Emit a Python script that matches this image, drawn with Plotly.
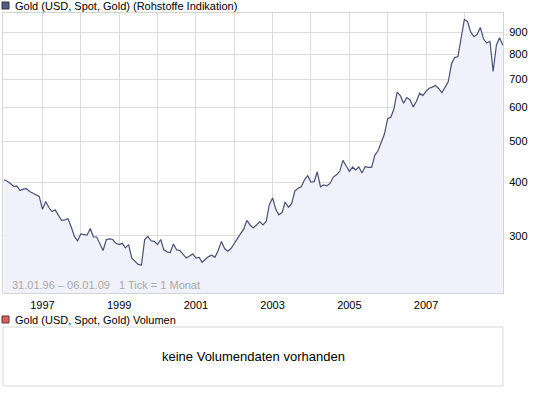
import plotly.graph_objects as go
import pandas as pd

# Monthly gold price (USD), Jan 1996 .. Jan 2009
prices = [
    406, 403, 398, 392, 393, 383, 386, 387, 381, 378, 375, 371,   # 1996
    346, 361, 350, 342, 345, 335, 326, 327, 329, 315, 299, 292,   # 1997
    303, 302, 301, 312, 298, 298, 288, 277, 294, 295, 294, 288,   # 1998
    286, 288, 281, 286, 266, 261, 257, 256, 294, 299, 292, 291,   # 1999
    286, 294, 278, 275, 274, 287, 278, 277, 272, 266, 269, 272,   # 2000
    266, 267, 260, 264, 268, 270, 267, 277, 291, 280, 276, 280,   # 2001
    288, 297, 303, 311, 326, 318, 313, 318, 324, 318, 324, 355,   # 2002
    368, 346, 336, 340, 360, 350, 357, 382, 388, 391, 406, 415,   # 2003
    401, 402, 424, 391, 395, 393, 398, 412, 417, 425, 451, 438,   # 2004
    425, 435, 428, 435, 421, 436, 434, 434, 464, 475, 496, 520,   # 2005
    565, 570, 595, 652, 640, 614, 633, 626, 602, 620, 648, 640,   # 2006
    655, 666, 670, 676, 665, 650, 669, 690, 760, 786, 790, 870,   # 2007
    966, 955, 903, 880, 890, 925, 870, 850, 858, 729, 840, 875,   # 2008
    840,                                                          # 2009
]
dates = pd.date_range("1996-01-01", periods=len(prices), freq="MS")

year_ticks = [f"{y}-01-01" for y in range(1997, 2010)]
year_labels = [str(y) if y % 2 == 1 and y < 2009 else "" for y in range(1997, 2010)]
y_ticks = [300, 400, 500, 600, 700, 800, 900]

title_main = "Gold (USD, Spot, Gold) (Rohstoffe Indikation)"
title_vol = "Gold (USD, Spot, Gold) Volumen"
range_note = "31.01.96 \u2013 06.01.09   1 Tick = 1 Monat"
no_vol = "keine Volumendaten vorhanden"

FONT = "Liberation Sans"
W, H = 545, 395
L, R, T, B = 3, 42, 13, 102
PH = H - T - B


def py(px):
    """convert pixel y (from top) to paper y"""
    return (H - B - px) / PH


def pxx(px):
    return (px - L) / (W - L - R)


fig = go.Figure()
fig.add_trace(go.Scatter(
    x=dates, y=prices, mode="lines",
    line=dict(color="#4a5174", width=1.2),
    fill="tozeroy", fillcolor="#f1f1fc",
    hoverinfo="x+y", showlegend=False,
))

fig.update_layout(
    width=W, height=H,
    margin=dict(l=L, r=R, t=T, b=B),
    paper_bgcolor="white", plot_bgcolor="white",
    font=dict(family=FONT, size=11, color="#000000"),
    xaxis=dict(
        range=["1995-12-22", "2009-01-03"],
        tickvals=year_ticks, ticktext=year_labels,
        showgrid=True, gridcolor="#dcdcdc", gridwidth=1,
        showline=True, linecolor="#d4d4d4", linewidth=1, mirror=True,
        ticks="", ticklabelstandoff=2, zeroline=False,
        tickfont=dict(family=FONT, size=11, color="#000000"),
    ),
    yaxis=dict(
        type="log", side="right",
        range=[2.3428, 3.0],
        tickvals=y_ticks, ticktext=[str(v) for v in y_ticks],
        showgrid=True, gridcolor="#dcdcdc", gridwidth=1,
        showline=True, linecolor="#d4d4d4", linewidth=1, mirror=True,
        ticks="", ticklabelstandoff=3, zeroline=False,
        tickfont=dict(family=FONT, size=11, color="#000000"),
    ),
)

shapes = [
    # legend square main
    dict(type="rect", xref="paper", yref="paper",
         x0=pxx(2), x1=pxx(9), y0=py(9), y1=py(2),
         fillcolor="#525c84", line=dict(color="#303040", width=1)),
    # legend square volume
    dict(type="rect", xref="paper", yref="paper",
         x0=pxx(2), x1=pxx(9), y0=py(323), y1=py(316),
         fillcolor="#d86060", line=dict(color="#603030", width=1)),
    # volume box
    dict(type="rect", xref="paper", yref="paper",
         x0=pxx(3), x1=pxx(503), y0=py(386), y1=py(327),
         fillcolor="white", line=dict(color="#d8d8d8", width=1)),
]
fig.update_layout(shapes=shapes)

ann = [
    dict(text=title_main, x=pxx(13), y=py(6), xanchor="left", yanchor="middle",
         font=dict(family=FONT, size=11, color="#000000")),
    dict(text=title_vol, x=pxx(13), y=py(320), xanchor="left", yanchor="middle",
         font=dict(family=FONT, size=11, color="#000000")),
    dict(text=range_note, x=pxx(10), y=py(285), xanchor="left", yanchor="middle",
         font=dict(family=FONT, size=11, color="#a8a8a8")),
    dict(text=no_vol, x=pxx(253), y=py(356), xanchor="center", yanchor="middle",
         font=dict(family=FONT, size=13, color="#000000")),
]
for a in ann:
    a.update(xref="paper", yref="paper", showarrow=False)
fig.update_layout(annotations=ann)

fig.write_html(
    "out.html",
    config={"displayModeBar": False},
    post_script="document.body.style.margin='0px';document.body.style.padding='0px';",
)
